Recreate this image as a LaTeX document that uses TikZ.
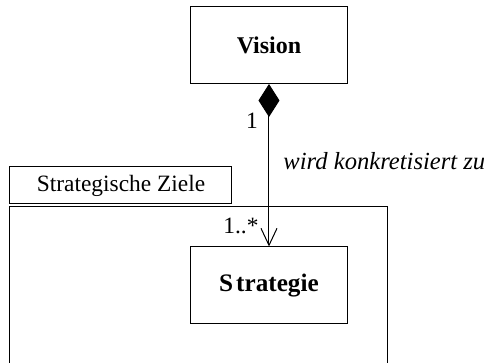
\documentclass[tikz,border=0pt]{standalone}
\usepackage{fontspec}
\setmainfont{Liberation Serif}
\usetikzlibrary{arrows.meta}
\begin{document}
\begin{tikzpicture}[x=0.5pt,y=-0.5pt,
  line width=0.5pt,
  every node/.style={font=\fontsize{11.7}{14}\selectfont, inner sep=0pt},
  classbox/.style={draw, minimum width=78.5pt, minimum height=38.5pt, font=\fontsize{12}{14}\selectfont\bfseries},
  tabbox/.style={draw, minimum width=111pt, minimum height=18.5pt},
  label/.style={font=\fontsize{11.7}{14}\selectfont}]
  \useasboundingbox (0,0) rectangle (484,363);
  \clip (0,0) rectangle (484,363);

  % classes
  \node[classbox] (vision) at (269,45) {Vision};
  \node[classbox, font=\fontsize{12.6}{14}\selectfont\bfseries] (strat) at (269,285.5) {S\kern1.5pt trategie};

  % package with its name tab
  \node[tabbox] (tab) at (121,185.5) {Strategische Ziele};
  \coordinate (frameBL) at (10,370);
  \coordinate (frameTL) at (10,207);
  \coordinate (frameTR) at (388,207);
  \coordinate (frameBR) at (388,370);
  \draw (frameBL) -- (frameTL) -- (frameTR) -- (frameBR);

  % composition
  \draw[{Diamond[length=16.5pt,width=10.5pt]}-{Straight Barb[length=8.5pt,width=8pt]}]
    (vision.south) -- (strat.north);

  % multiplicities and role
  \node[label] (m1) at (252,121) {1};
  \node[label] (m2) at (241,226) {1..*};
  \node[label, anchor=base west, font=\fontsize{12.3}{14}\selectfont\itshape] (role) at (283,170) {wird konkretisiert zu};
\end{tikzpicture}
\end{document}
